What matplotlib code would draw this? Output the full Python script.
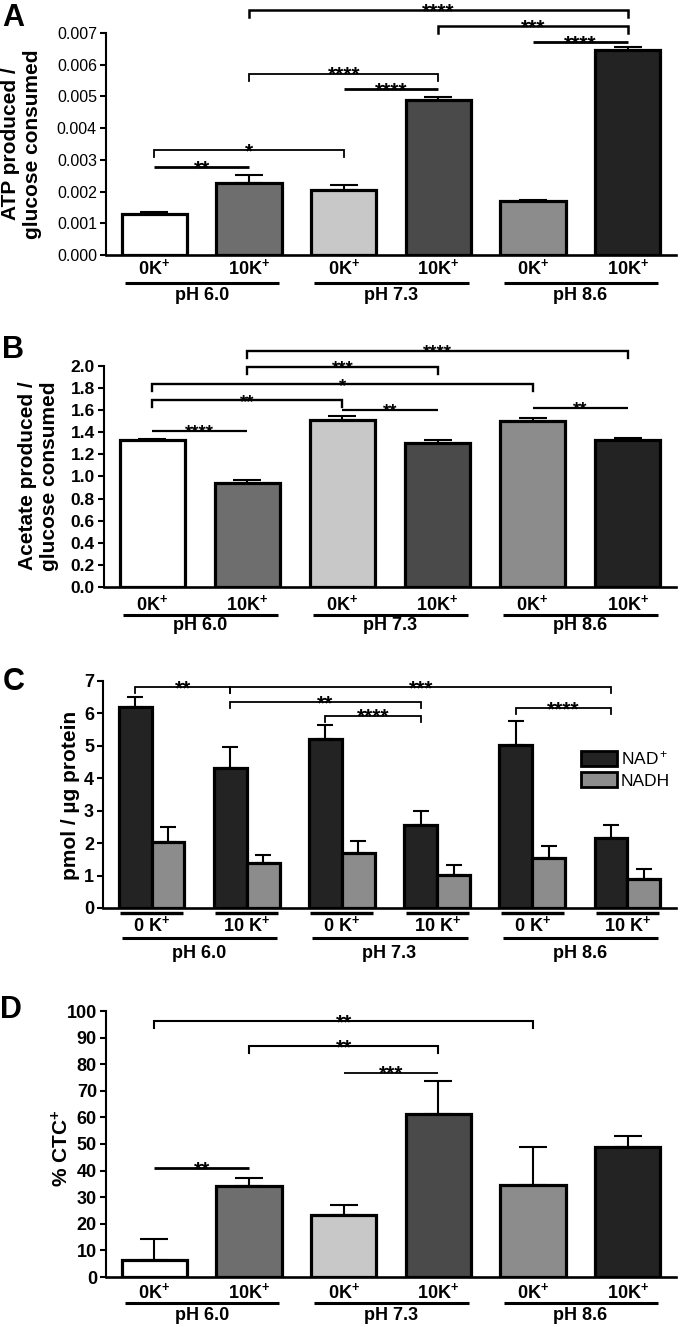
import numpy as np
import matplotlib
matplotlib.use("Agg")
import matplotlib.pyplot as plt
from matplotlib.patches import Patch

plt.rcParams['font.family'] = ['Liberation Sans', 'DejaVu Sans']
plt.rcParams['mathtext.fontset'] = 'custom'
plt.rcParams['mathtext.rm'] = 'Liberation Sans'
plt.rcParams['mathtext.bf'] = 'Liberation Sans:bold'
plt.rcParams['mathtext.it'] = 'Liberation Sans:italic'

# datos
k_labels = [r'0K$^{\mathbf{+}}$', r'10K$^{\mathbf{+}}$'] * 3
k_labels_c = [r'0 K$^{\mathbf{+}}$', r'10 K$^{\mathbf{+}}$'] * 3
ph_labels = ['pH 6.0', 'pH 7.3', 'pH 8.6']
bar_colors = ['#ffffff', '#6e6e6e', '#c8c8c8', '#4a4a4a', '#8c8c8c', '#232323']

atp_mean = [0.00129, 0.00227, 0.00206, 0.00490, 0.00170, 0.00645]
atp_err = [0.00008, 0.00024, 0.00014, 0.00009, 0.00005, 0.00010]

acetate_mean = [1.33, 0.94, 1.51, 1.30, 1.50, 1.33]
acetate_err = [0.01, 0.025, 0.035, 0.03, 0.03, 0.015]

nad_mean = [6.19, 4.32, 5.20, 2.57, 5.02, 2.16]
nad_err = [0.32, 0.63, 0.44, 0.41, 0.75, 0.39]
nadh_mean = [2.05, 1.38, 1.71, 1.03, 1.55, 0.90]
nadh_err = [0.46, 0.26, 0.37, 0.29, 0.36, 0.31]
legend_labels = [r'NAD$^+$', 'NADH']

ctc_mean = [6.5, 34.3, 23.3, 61.1, 34.6, 48.7]
ctc_err = [7.7, 3.1, 3.9, 12.7, 14.3, 4.4]

# comparaciones: (barra1, barra2, altura, etiqueta, tipo)
sig_a = [(0, 1, 0.00278, '**', 'line'),
         (0, 2, 0.00330, '*', 'bracket'),
         (1, 3, 0.00572, '****', 'bracket'),
         (2, 3, 0.00522, '****', 'line'),
         (1, 5, 0.00772, '****', 'bracket'),
         (3, 5, 0.00721, '***', 'bracket'),
         (4, 5, 0.00672, '****', 'line')]
sig_b = [(0, 1, 1.41, '****', 'line'),
         (0, 2, 1.69, '**', 'bracket'),
         (2, 3, 1.60, '**', 'line'),
         (0, 4, 1.835, '*', 'bracket'),
         (1, 3, 1.995, '***', 'bracket'),
         (1, 5, 2.135, '****', 'bracket'),
         (4, 5, 1.62, '**', 'line')]
sig_c = [(0, 1, 6.82, '**', 'bracket'),
         (1, 5, 6.82, '***', 'bracket'),
         (1, 3, 6.34, '**', 'bracket'),
         (2, 3, 5.93, '****', 'bracket'),
         (4, 5, 6.17, '****', 'bracket')]
sig_d = [(0, 4, 96.2, '**', 'bracket'),
         (1, 3, 86.8, '**', 'bracket'),
         (2, 3, 76.8, '***', 'line'),
         (0, 1, 40.8, '**', 'line')]

W, H = 680, 1327
fig = plt.figure(figsize=(W / 100, H / 100), dpi=100)
x = np.arange(6)


def axes_px(l, t, r, b):
    ax = fig.add_axes([l / W, 1 - b / H, (r - l) / W, (b - t) / H])
    ax.h_px = b - t
    ax.spines[['top', 'right']].set_visible(False)
    ax.spines['left'].set_linewidth(1.5)
    ax.spines['bottom'].set_linewidth(1.9)
    ax.tick_params(axis='x', length=0, labelbottom=False)
    ax.tick_params(axis='y', direction='out', length=4.5, width=1.5, pad=2)
    ax.set_xlim(-0.51, 5.51)
    return ax


def under(ax, xpos, off_px, s, size=13):
    ax.text(xpos, -off_px / ax.h_px, s, transform=ax.get_xaxis_transform(),
            ha='center', va='center', fontsize=size, fontweight='bold', clip_on=False)


def under_line(ax, x1, x2, off_px, lw=2.2):
    ax.plot([x1, x2], [-off_px / ax.h_px] * 2, transform=ax.get_xaxis_transform(),
            color='k', lw=lw, clip_on=False, solid_capstyle='butt')


def groups(ax, labels, off_lab, off_line, off_ph):
    for i in range(6):
        under(ax, i, off_lab, labels[i])
    for g in range(3):
        under_line(ax, 2 * g - 0.31, 2 * g + 1.32, off_line)
        under(ax, 2 * g + 0.5, off_ph, ph_labels[g], size=13)


def sig(ax, x1, x2, y, label, kind, leg_px=7, lw_line=2.0, lw_br=1.3, fs=15):
    y0, y1 = ax.get_ylim()
    leg = leg_px * (y1 - y0) / ax.h_px
    if kind == 'bracket':
        ax.plot([x1, x1, x2, x2], [y - leg, y, y, y - leg], color='k', lw=lw_br,
                clip_on=False, solid_joinstyle='miter')
    else:
        ax.plot([x1, x2], [y, y], color='k', lw=lw_line, clip_on=False,
                solid_capstyle='butt')
    ax.annotate(label, ((x1 + x2) / 2, y), xytext=(0, -0.34 * fs), textcoords='offset points',
                ha='center', va='baseline', fontsize=fs, fontweight='bold',
                annotation_clip=False)


def bars(ax, mean, err, capsize=10):
    ax.bar(x, mean, width=0.69, color=bar_colors, edgecolor='k', linewidth=2.3, zorder=3)
    ax.errorbar(x, mean, yerr=[np.zeros(6), err], fmt='none', ecolor='k',
                elinewidth=1.5, capsize=capsize, capthick=1.5, zorder=2)


# ---------- A ----------
ax = axes_px(106, 33, 676, 255)
ax.set_ylim(0, 0.007)
ax.set_yticks(np.arange(0, 0.0071, 0.001))
ax.set_yticklabels(['%.3f' % v for v in np.arange(0, 0.0071, 0.001)], fontsize=11.5)
bars(ax, atp_mean, atp_err)
for a, b, y, s, k in sig_a:
    sig(ax, a, b, y, s, k, lw_br=1.8 if y > 0.007 else 1.3)
groups(ax, k_labels, 13, 28, 40)
fig.text(22 / W, 1 - 144 / H, 'ATP produced /\nglucose consumed', rotation=90,
         ha='center', va='center', fontsize=15, fontweight='bold')
fig.text(2 / W, 1 - 3 / H, 'A', fontsize=22, fontweight='bold', va='top', ha='left')

# ---------- B ----------
ax = axes_px(104, 366, 676, 587)
ax.set_ylim(0, 2.0)
ax.set_yticks(np.arange(0, 2.01, 0.2))
ax.set_yticklabels(['%.1f' % v for v in np.arange(0, 2.01, 0.2)], fontsize=12.5,
                   fontweight='bold')
bars(ax, acetate_mean, acetate_err)
for a, b, y, s, k in sig_b:
    sig(ax, a, b, y, s, k, lw_line=1.6, lw_br=1.7, fs=13.5)
groups(ax, k_labels, 17, 28, 39)
fig.text(39 / W, 1 - 476 / H, 'Acetate produced /\nglucose consumed', rotation=90,
         ha='center', va='center', fontsize=15, fontweight='bold')
fig.text(2 / W, 1 - 335 / H, 'B', fontsize=22, fontweight='bold', va='top', ha='left')

# ---------- C ----------
ax = axes_px(103, 681, 676, 908)
ax.set_ylim(0, 7)
ax.set_yticks(range(8))
ax.set_yticklabels([str(v) for v in range(8)], fontsize=13, fontweight='bold')
w = 0.345
ax.bar(x - w / 2, nad_mean, width=w, color='#232323', edgecolor='k', linewidth=2.3, zorder=3)
ax.bar(x + w / 2, nadh_mean, width=w, color='#8c8c8c', edgecolor='k', linewidth=2.3, zorder=3)
ax.errorbar(x - w / 2, nad_mean, yerr=[np.zeros(6), nad_err], fmt='none', ecolor='k',
            elinewidth=1.5, capsize=6, capthick=1.5, zorder=2)
ax.errorbar(x + w / 2, nadh_mean, yerr=[np.zeros(6), nadh_err], fmt='none', ecolor='k',
            elinewidth=1.5, capsize=6, capthick=1.5, zorder=2)
for a, b, y, s, k in sig_c:
    sig(ax, a - w / 2, b - w / 2, y, s, k, leg_px=6, lw_br=1.3)
for i in range(6):
    under_line(ax, i - 0.33, i + 0.33, 5, lw=2.4)
    under(ax, i, 17, k_labels_c[i])
for g in range(3):
    under_line(ax, 2 * g - 0.31, 2 * g + 1.32, 30)
    under(ax, 2 * g + 0.5, 45, ph_labels[g], size=13)
handles = [Patch(facecolor='#232323', edgecolor='k', linewidth=2.0),
           Patch(facecolor='#8c8c8c', edgecolor='k', linewidth=2.0)]
ax.legend(handles, legend_labels, loc='upper left', bbox_to_anchor=(0.834, 0.70),
          frameon=False, fontsize=12.5, handlelength=2.1, handleheight=0.95,
          handletextpad=0.2, labelspacing=0.3, borderpad=0, borderaxespad=0)
fig.text(71 / W, 1 - 795 / H, 'pmol / µg protein', rotation=90,
         ha='center', va='center', fontsize=15, fontweight='bold')
fig.text(3 / W, 1 - 667 / H, 'C', fontsize=22, fontweight='bold', va='top', ha='left')

# ---------- D ----------
ax = axes_px(106, 1011, 676, 1277)
ax.set_ylim(0, 100)
ax.set_yticks(range(0, 101, 10))
ax.set_yticklabels([str(v) for v in range(0, 101, 10)], fontsize=13, fontweight='bold')
bars(ax, ctc_mean, ctc_err)
for a, b, y, s, k in sig_d:
    lw_line = 2.0 if y < 50 else 1.3
    sig(ax, a, b, y, s, k, lw_line=lw_line, lw_br=1.5)
groups(ax, k_labels, 15, 26, 38)
fig.text(62 / W, 1 - 1148 / H, r'% CTC$^{\mathbf{+}}$', rotation=90,
         ha='center', va='center', fontsize=15, fontweight='bold')
fig.text(0 / W, 1 - 995 / H, 'D', fontsize=22, fontweight='bold', va='top', ha='left')

fig.savefig('out.png', dpi=100)
